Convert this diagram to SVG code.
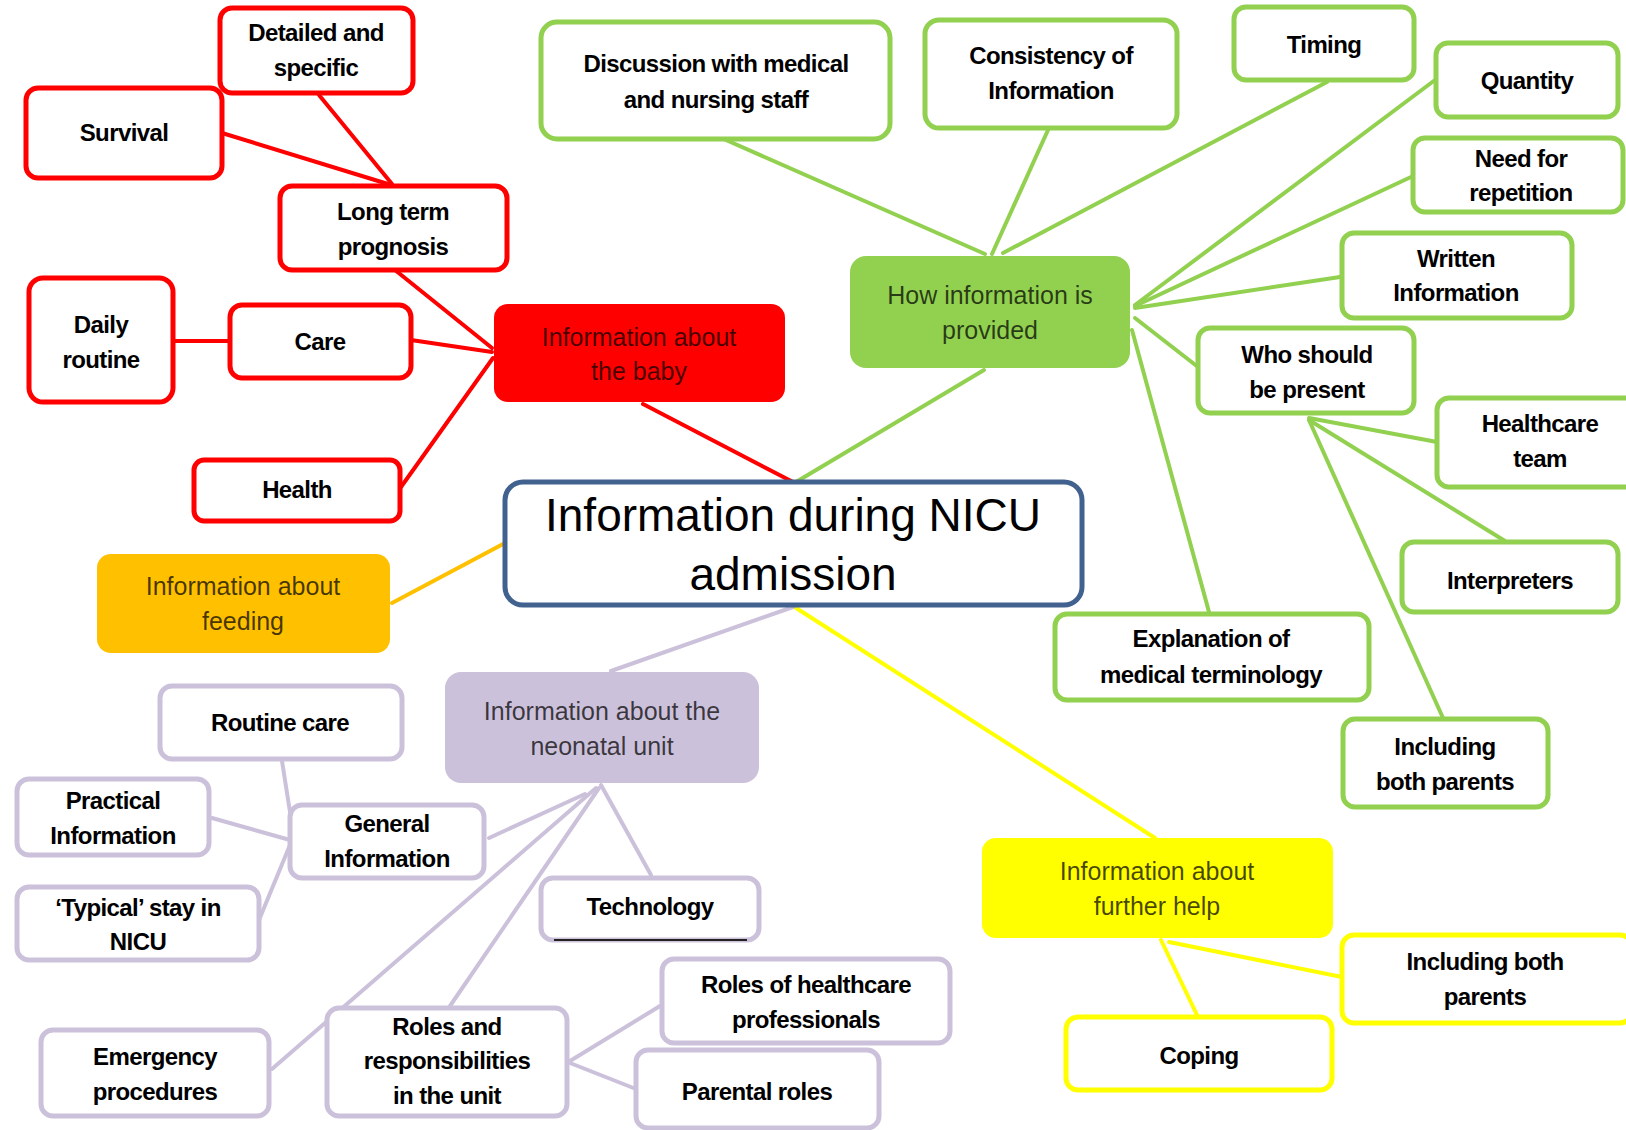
<svg xmlns="http://www.w3.org/2000/svg" width="1626" height="1130" viewBox="0 0 1626 1130">
<style>
.b{fill:#fff;stroke-width:5}
.r{stroke:#FF0000}.g{stroke:#92D050}.l{stroke:#CCC1DA}.y{stroke:#FFFF00}
.t{font-family:"Liberation Sans",Arial,sans-serif;font-weight:bold;font-size:24px;letter-spacing:-0.6px;fill:#000;text-anchor:middle}
.f{font-family:"Liberation Sans",Arial,sans-serif;font-size:25px;fill:#000;fill-opacity:0.72;text-anchor:middle}
.c{fill:none;stroke-width:4;stroke-linecap:round}
</style>
<rect width="1626" height="1130" fill="#fff"/>
<g id="connectors">
<g class="c" stroke="#FF0000">
<line x1="643" y1="404" x2="793" y2="482"/>
<line x1="395" y1="270" x2="492" y2="348"/>
<line x1="411" y1="340" x2="492" y2="352"/>
<line x1="401" y1="487" x2="493" y2="358"/>
<line x1="173" y1="341" x2="230" y2="341"/>
<line x1="222" y1="133" x2="388" y2="184"/>
<line x1="319" y1="95" x2="392" y2="184"/>
</g>
<g class="c" stroke="#92D050">
<line x1="726" y1="140" x2="985" y2="254"/>
<line x1="1048" y1="130" x2="992" y2="254"/>
<line x1="1327" y1="82" x2="1003" y2="253"/>
<line x1="1435" y1="80" x2="1135" y2="305"/>
<line x1="1411" y1="177" x2="1135" y2="306"/>
<line x1="1340" y1="277" x2="1135" y2="308"/>
<line x1="1198" y1="367" x2="1135" y2="318"/>
<line x1="1132" y1="330" x2="1209" y2="612"/>
<line x1="984" y1="370" x2="796" y2="482"/>
<line x1="1309" y1="418" x2="1437" y2="442"/>
<line x1="1309" y1="420" x2="1505" y2="541"/>
<line x1="1309" y1="420" x2="1443" y2="718"/>
</g>
<g class="c" stroke="#FFFF00">
<line x1="793" y1="606" x2="1155" y2="838"/>
<line x1="1161" y1="940" x2="1198" y2="1017"/>
<line x1="1169" y1="942" x2="1342" y2="977"/>
</g>
<g class="c" stroke="#FFC000">
<line x1="505" y1="543" x2="392" y2="603"/>
</g>
<g class="c" stroke="#CCC1DA">
<line x1="793" y1="607" x2="611" y2="671"/>
<line x1="601" y1="785" x2="651" y2="875"/>
<line x1="585" y1="794" x2="489" y2="838"/>
<line x1="596" y1="788" x2="272" y2="1069"/>
<line x1="599" y1="788" x2="450" y2="1006"/>
<line x1="290" y1="840" x2="212" y2="818"/>
<line x1="282" y1="761" x2="290" y2="812"/>
<line x1="290" y1="845" x2="259" y2="920"/>
<line x1="570" y1="1061" x2="660" y2="1006"/>
<line x1="570" y1="1063" x2="636" y2="1089"/>
</g>
</g>
<g id="center">
<rect x="505" y="482" width="577" height="123" rx="18" fill="#fff" stroke="#41628F" stroke-width="5"/>
<text x="793" y="531" font-family="Liberation Sans, Arial, sans-serif" font-size="46" text-anchor="middle">Information during NICU</text>
<text x="793" y="590" font-family="Liberation Sans, Arial, sans-serif" font-size="46" text-anchor="middle">admission</text>
</g>
<g id="baby">
<rect x="494" y="304" width="291" height="98" rx="14" fill="#FF0000"/>
<text class="f" x="639" y="346">Information about</text>
<text class="f" x="639" y="380">the baby</text>
</g>
<g id="detailed">
<rect class="b r" x="220" y="8" width="193" height="85" rx="12"/>
<text class="t" x="316" y="41">Detailed and</text>
<text class="t" x="316" y="76">specific</text>
</g>
<g id="survival">
<rect class="b r" x="26" y="88" width="196" height="90" rx="12"/>
<text class="t" x="124" y="141">Survival</text>
</g>
<g id="longterm">
<rect class="b r" x="280" y="186" width="227" height="84" rx="12"/>
<text class="t" x="393" y="220">Long term</text>
<text class="t" x="393" y="255">prognosis</text>
</g>
<g id="daily">
<rect class="b r" x="29" y="278" width="144" height="124" rx="14"/>
<text class="t" x="101" y="333">Daily</text>
<text class="t" x="101" y="368">routine</text>
</g>
<g id="care">
<rect class="b r" x="230" y="305" width="181" height="73" rx="12"/>
<text class="t" x="320" y="350">Care</text>
</g>
<g id="health">
<rect class="b r" x="194" y="460" width="206" height="61" rx="10"/>
<text class="t" x="297" y="498">Health</text>
</g>
<g id="how">
<rect x="850" y="256" width="280" height="112" rx="16" fill="#92D050"/>
<text class="f" x="990" y="304">How information is</text>
<text class="f" x="990" y="339">provided</text>
</g>
<g id="discussion">
<rect class="b g" x="541" y="22" width="349" height="117" rx="16"/>
<text class="t" x="716" y="72">Discussion with medical</text>
<text class="t" x="716" y="108">and nursing staff</text>
</g>
<g id="consistency">
<rect class="b g" x="925" y="20" width="252" height="108" rx="14"/>
<text class="t" x="1051" y="64">Consistency of</text>
<text class="t" x="1051" y="99">Information</text>
</g>
<g id="timing">
<rect class="b g" x="1234" y="7" width="180" height="73" rx="12"/>
<text class="t" x="1324" y="53">Timing</text>
</g>
<g id="quantity">
<rect class="b g" x="1436" y="43" width="182" height="74" rx="12"/>
<text class="t" x="1527" y="89">Quantity</text>
</g>
<g id="repetition">
<rect class="b g" x="1413" y="138" width="210" height="74" rx="12"/>
<text class="t" x="1521" y="167">Need for</text>
<text class="t" x="1521" y="201">repetition</text>
</g>
<g id="written">
<rect class="b g" x="1342" y="233" width="230" height="85" rx="12"/>
<text class="t" x="1456" y="267">Written</text>
<text class="t" x="1456" y="301">Information</text>
</g>
<g id="who">
<rect class="b g" x="1198" y="328" width="216" height="85" rx="12"/>
<text class="t" x="1307" y="363">Who should</text>
<text class="t" x="1307" y="398">be present</text>
</g>
<g id="healthcare">
<rect class="b g" x="1437" y="398" width="205" height="89" rx="12"/>
<text class="t" x="1540" y="432">Healthcare</text>
<text class="t" x="1540" y="467">team</text>
</g>
<g id="interpreters">
<rect class="b g" x="1402" y="542" width="216" height="70" rx="12"/>
<text class="t" x="1510" y="589">Interpreters</text>
</g>
<g id="explanation">
<rect class="b g" x="1055" y="614" width="314" height="86" rx="12"/>
<text class="t" x="1211" y="647">Explanation of</text>
<text class="t" x="1211" y="683">medical terminology</text>
</g>
<g id="bothparents-green">
<rect class="b g" x="1343" y="719" width="205" height="88" rx="12"/>
<text class="t" x="1445" y="755">Including</text>
<text class="t" x="1445" y="790">both parents</text>
</g>
<g id="feeding">
<rect x="97" y="554" width="293" height="99" rx="14" fill="#FFC000"/>
<text class="f" x="243" y="595">Information about</text>
<text class="f" x="243" y="630">feeding</text>
</g>
<g id="neonatal">
<rect x="445" y="672" width="314" height="111" rx="16" fill="#CCC1DA"/>
<text class="f" x="602" y="720">Information about the</text>
<text class="f" x="602" y="755">neonatal unit</text>
</g>
<g id="routine">
<rect class="b l" x="160" y="686" width="242" height="73" rx="12"/>
<text class="t" x="280" y="731">Routine care</text>
</g>
<g id="practical">
<rect class="b l" x="17" y="779" width="192" height="76" rx="12"/>
<text class="t" x="113" y="809">Practical</text>
<text class="t" x="113" y="844">Information</text>
</g>
<g id="general">
<rect class="b l" x="290" y="805" width="194" height="73" rx="12"/>
<text class="t" x="387" y="832">General</text>
<text class="t" x="387" y="867">Information</text>
</g>
<g id="typical">
<rect class="b l" x="17" y="887" width="242" height="73" rx="12"/>
<text class="t" x="138" y="916">‘Typical’ stay in</text>
<text class="t" x="138" y="950">NICU</text>
</g>
<g id="technology">
<rect class="b l" x="541" y="878" width="218" height="62" rx="12"/>
<line x1="554" y1="940" x2="747" y2="940" stroke="#222" stroke-width="2"/>
<text class="t" x="650" y="915">Technology</text>
</g>
<g id="emergency">
<rect class="b l" x="41" y="1030" width="228" height="86" rx="12"/>
<text class="t" x="155" y="1065">Emergency</text>
<text class="t" x="155" y="1100">procedures</text>
</g>
<g id="roles">
<rect class="b l" x="327" y="1008" width="240" height="108" rx="12"/>
<text class="t" x="447" y="1035">Roles and</text>
<text class="t" x="447" y="1069">responsibilities</text>
<text class="t" x="447" y="1104">in the unit</text>
</g>
<g id="rolesprof">
<rect class="b l" x="662" y="959" width="288" height="84" rx="12"/>
<text class="t" x="806" y="993">Roles of healthcare</text>
<text class="t" x="806" y="1028">professionals</text>
</g>
<g id="parental">
<rect class="b l" x="636" y="1050" width="243" height="78" rx="12"/>
<text class="t" x="757" y="1100">Parental roles</text>
</g>
<g id="furtherhelp">
<rect x="982" y="838" width="351" height="100" rx="14" fill="#FFFF00"/>
<text class="f" x="1157" y="880">Information about</text>
<text class="f" x="1157" y="915">further help</text>
</g>
<g id="bothparents-yellow">
<rect class="b y" x="1342" y="935" width="290" height="88" rx="12"/>
<text class="t" x="1485" y="970">Including both</text>
<text class="t" x="1485" y="1005">parents</text>
</g>
<g id="coping">
<rect class="b y" x="1066" y="1017" width="266" height="73" rx="12"/>
<text class="t" x="1199" y="1064">Coping</text>
</g>
</svg>
